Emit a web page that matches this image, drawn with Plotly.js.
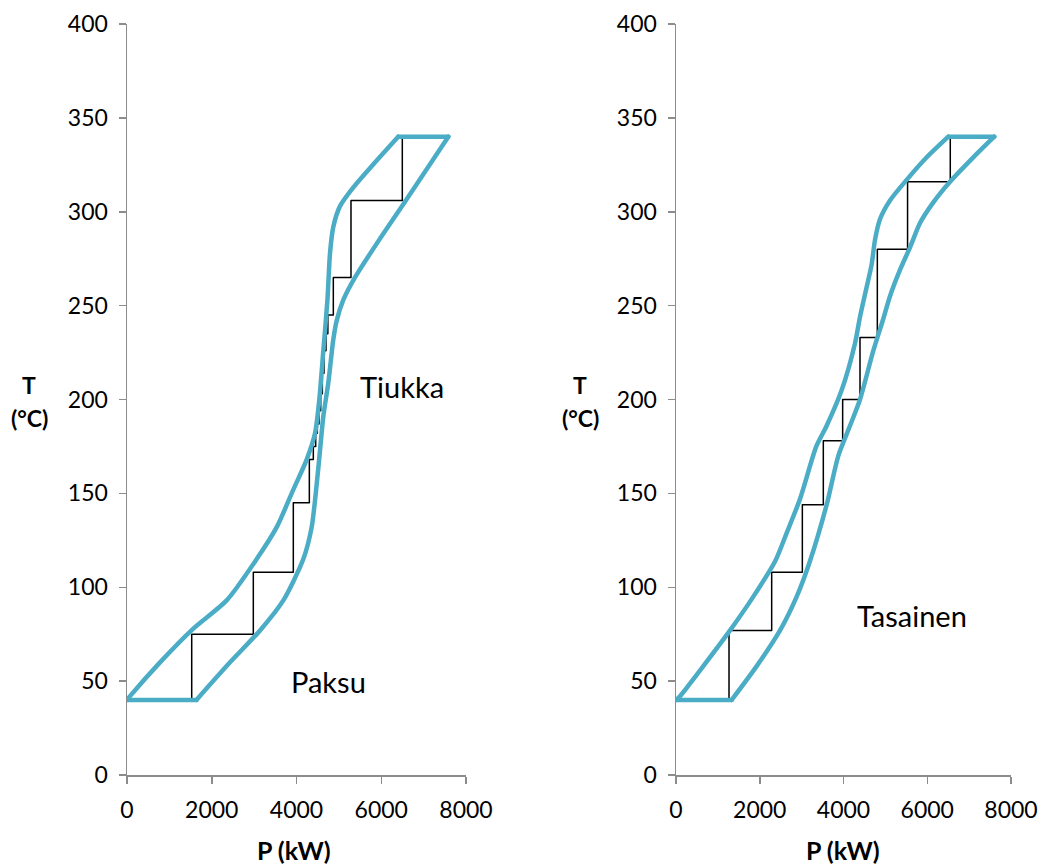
<!DOCTYPE html>
<html>
<head>
<meta charset="utf-8">
<script src="https://cdn.plot.ly/plotly-3.0.1.min.js"></script>
<style>
  html, body { margin: 0; padding: 0; background: #ffffff; }
  #chart { width: 1043px; height: 864px; }
  .js-line { stroke-linecap: round !important; stroke-linejoin: round !important; }
</style>
</head>
<body>
<div id="chart"></div>
<script>
// ---------- Data: left panel (Paksu / Tiukka) ----------
// upper-left boundary curve, from bottom-left corner to top-left corner
const leftUpperP = [0, 71, 779, 1565, 2352, 3060, 3533, 3925, 4240, 4437, 4538, 4633, 4730, 4791, 4869, 5027, 5341, 5840, 6400];
const leftUpperT = [40, 42, 60, 78, 93, 115, 132, 152, 168, 182, 200, 226, 253, 278, 292, 303, 313, 326, 340];
// lower-right boundary curve, from bottom-right corner to top-right corner
const leftLowerP = [1640, 2431, 3139, 3689, 4161, 4358, 4477, 4555, 4633, 4751, 4869, 4948, 5105, 5380, 5980, 6580, 7583];
const leftLowerT = [40, 60, 77, 93, 115, 132, 155, 173, 191, 209, 232, 242, 253, 265, 286, 306, 340];
// staircase corners (vertical then horizontal)
const leftStepP = [1527, 2981, 3925, 4303, 4397, 4453, 4492, 4531, 4571, 4610, 4649, 4696, 4740, 4869, 5286, 6497, 6497];
const leftStepT = [40, 75, 108, 145, 168, 175, 182, 187, 194, 203, 214, 226, 235, 245, 265, 306, 340];

// ---------- Data: right panel (Tasainen) ----------
const rightUpperP = [0, 96, 652, 1290, 1846, 2370, 2644, 2961, 3350, 3598, 3957, 4275, 4394, 4554, 4673, 4752, 4871, 5110, 5509, 5987, 6503];
const rightUpperT = [40, 42, 58, 77, 95, 114, 129, 147, 175, 186, 205, 230, 244, 260, 272, 285, 296, 306, 317, 329, 340];
const rightLowerP = [1330, 1927, 2484, 2882, 3200, 3598, 3876, 4155, 4394, 4712, 4951, 5110, 5349, 5588, 5827, 6145, 6543, 7100, 7600];
const rightLowerT = [40, 58, 77, 95, 114, 144, 170, 186, 200, 226, 243, 255, 269, 281, 294, 305, 316, 329, 340];
const rightStepP = [1266, 2285, 3017, 3518, 3980, 4394, 4808, 5530, 6550, 6550];
const rightStepT = [40, 77, 108, 144, 178, 200, 233, 280, 316, 340];

// ---------- Text ----------
const xTitle = 'P (kW)';
const yTitleTop = 'T';
const yTitleBottom = '(°C)';
const labels = [
  {text: 'Tiukka', x: 6480, y: 207, ref: ''},
  {text: 'Paksu', x: 4750, y: 50, ref: ''},
  {text: 'Tasainen', x: 5630, y: 85, ref: '2'}
];
const xTicks = [0, 2000, 4000, 6000, 8000];
const yTicks = [0, 50, 100, 150, 200, 250, 300, 350, 400];

const blue = '#4BACC6';
const FONT = 'Lato, "Open Sans", sans-serif';

function line(xs, ys, ax, color, width, shape) {
  return {x: xs, y: ys, xaxis: 'x' + ax, yaxis: 'y' + ax, type: 'scatter', mode: 'lines',
          line: {color: color, width: width, shape: shape, smoothing: 0.7}, hoverinfo: 'skip', showlegend: false};
}
function envelope(upP, upT, loP, loT, ax) {
  const nU = upP.length - 1, nL = loP.length - 1;
  return [
    line(upP, upT, ax, blue, 4.5, 'spline'),
    line(loP, loT, ax, blue, 4.5, 'spline'),
    line([upP[0], loP[0]], [upT[0], loT[0]], ax, blue, 4.5, 'linear'),
    line([upP[nU], loP[nL]], [upT[nU], loT[nL]], ax, blue, 4.5, 'linear')
  ];
}

const data = [].concat(
  [line(leftStepP, leftStepT, '', '#000000', 1.5, 'vh')],
  envelope(leftUpperP, leftUpperT, leftLowerP, leftLowerT, ''),
  [line(rightStepP, rightStepT, '2', '#000000', 1.5, 'vh')],
  envelope(rightUpperP, rightUpperT, rightLowerP, rightLowerT, '2')
);

const W = 1043, H = 864;
function xa(domain, anchor) {
  return {domain: domain, anchor: anchor, range: [0, 8000], tickvals: xTicks, ticktext: xTicks.map(String),
          showgrid: false, zeroline: false, showline: true, linecolor: '#8c8c8c', linewidth: 1.5,
          ticks: 'outside', ticklen: 7, tickwidth: 1.5, tickcolor: '#8c8c8c',
          ticklabelstandoff: 7, tickfont: {family: FONT, size: 23, color: '#000'}, fixedrange: true};
}
function ya(domain, anchor) {
  return {domain: domain, range: [0, 400], tickvals: yTicks, ticktext: yTicks.map(String), anchor: anchor,
          showgrid: false, zeroline: false, showline: true, linecolor: '#8c8c8c', linewidth: 1.5,
          ticks: 'outside', ticklen: 7, tickwidth: 1.5, tickcolor: '#8c8c8c',
          ticklabelstandoff: 6, tickfont: {family: FONT, size: 23, color: '#000'}, fixedrange: true};
}
const yDom = [1 - 775 / H, 1 - 24 / H];

const annotations = [];
labels.forEach(l => annotations.push({text: l.text, x: l.x, y: l.y, xref: 'x' + l.ref, yref: 'y' + l.ref,
  showarrow: false, xanchor: 'center', yanchor: 'middle', font: {family: FONT, size: 29, color: '#000'}}));
[294, 843].forEach(cx => annotations.push({text: '<b>' + xTitle + '</b>', x: cx / W, y: 1 - 850 / H,
  xref: 'paper', yref: 'paper', showarrow: false, xanchor: 'center', yanchor: 'middle',
  font: {family: FONT, size: 25, color: '#000'}}));
[29, 580].forEach(cx => {
  annotations.push({text: '<b>' + yTitleTop + '</b>', x: cx / W, y: 1 - 385 / H, xref: 'paper', yref: 'paper',
    showarrow: false, xanchor: 'center', yanchor: 'middle', font: {family: FONT, size: 23, color: '#000'}});
  annotations.push({text: '<b>' + yTitleBottom + '</b>', x: cx / W, y: 1 - 418 / H, xref: 'paper', yref: 'paper',
    showarrow: false, xanchor: 'center', yanchor: 'middle', font: {family: FONT, size: 23, color: '#000'}});
});

const layout = {
  width: W, height: H,
  margin: {l: 0, r: 0, t: 0, b: 0, pad: 0},
  paper_bgcolor: '#ffffff', plot_bgcolor: '#ffffff',
  showlegend: false,
  xaxis: xa([127 / W, 466 / W], 'y'),
  yaxis: ya(yDom, 'x'),
  xaxis2: xa([676 / W, 1011 / W], 'y2'),
  yaxis2: ya(yDom, 'x2'),
  annotations: annotations
};

Plotly.newPlot('chart', data, layout, {displayModeBar: false, staticPlot: true});
</script>
</body>
</html>
